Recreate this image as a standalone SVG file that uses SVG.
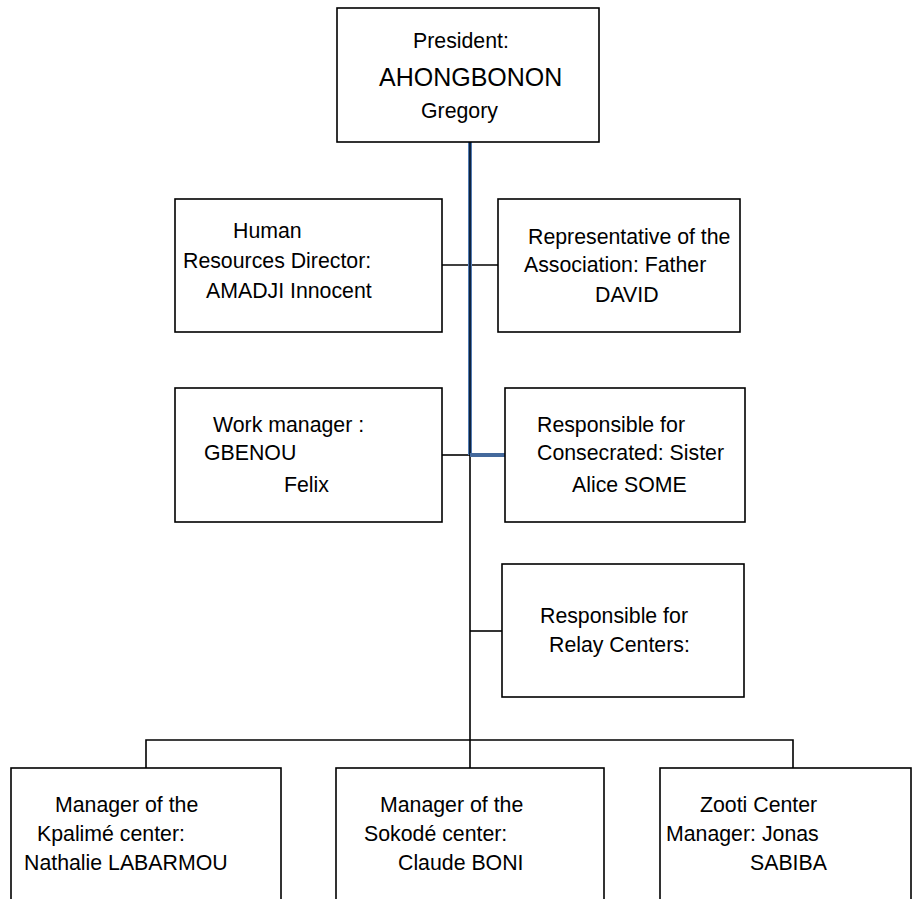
<svg xmlns="http://www.w3.org/2000/svg" width="913" height="899" viewBox="0 0 913 899">
<style>
.box{fill:#fff;stroke:#000;stroke-width:1.6}
.t{font-family:"Liberation Sans",Arial,sans-serif;font-size:21.3px;fill:#000}
.big{font-size:25px}
.ln{stroke:#000;stroke-width:1.6;fill:none}
</style>
<rect width="913" height="899" fill="#fff"/>
<g id="connectors">
<line class="ln" x1="442" y1="265" x2="498" y2="265"/>
<line class="ln" x1="442" y1="455" x2="470" y2="455"/>
<line class="ln" x1="470" y1="455" x2="470" y2="768"/>
<line class="ln" x1="470" y1="631" x2="502" y2="631"/>
<polyline class="ln" points="146,768 146,740 793,740 793,768"/>
<line x1="470" y1="142" x2="470" y2="455" stroke="#5b86c0" stroke-width="4"/>
<line x1="470" y1="142" x2="470" y2="455" stroke="#0f2440" stroke-width="2.2"/>
<line x1="470" y1="455" x2="505" y2="455" stroke="#44699c" stroke-width="4"/>
</g>
<g id="president">
<rect class="box" x="337" y="8" width="262" height="134"/>
<text class="t" x="413" y="48">President:</text>
<text class="t big" x="379" y="86">AHONGBONON</text>
<text class="t" x="421" y="118">Gregory</text>
</g>
<g id="hr">
<rect class="box" x="175" y="199" width="267" height="133"/>
<text class="t" x="233" y="238">Human</text>
<text class="t" x="183" y="268">Resources Director:</text>
<text class="t" x="206" y="298">AMADJI Innocent</text>
</g>
<g id="representative">
<rect class="box" x="498" y="199" width="242" height="133"/>
<text class="t" x="528" y="244">Representative of the</text>
<text class="t" x="524" y="272">Association: Father</text>
<text class="t" x="595" y="302">DAVID</text>
</g>
<g id="work">
<rect class="box" x="175" y="388" width="267" height="134"/>
<text class="t" x="213" y="432">Work manager :</text>
<text class="t" x="204" y="460">GBENOU</text>
<text class="t" x="284" y="492">Felix</text>
</g>
<g id="consecrated">
<rect class="box" x="505" y="388" width="240" height="134"/>
<text class="t" x="537" y="432">Responsible for</text>
<text class="t" x="537" y="460">Consecrated: Sister</text>
<text class="t" x="572" y="492">Alice SOME</text>
</g>
<g id="relay">
<rect class="box" x="502" y="564" width="242" height="133"/>
<text class="t" x="540" y="623">Responsible for</text>
<text class="t" x="549" y="652">Relay Centers:</text>
</g>
<g id="kpalime">
<rect class="box" x="11" y="768" width="270" height="150"/>
<text class="t" x="55" y="812">Manager of the</text>
<text class="t" x="37" y="841">Kpalimé center:</text>
<text class="t" x="24" y="870">Nathalie LABARMOU</text>
</g>
<g id="sokode">
<rect class="box" x="336" y="768" width="268" height="150"/>
<text class="t" x="380" y="812">Manager of the</text>
<text class="t" x="364" y="841">Sokodé center:</text>
<text class="t" x="398" y="870">Claude BONI</text>
</g>
<g id="zooti">
<rect class="box" x="660" y="768" width="251" height="150"/>
<text class="t" x="700" y="812">Zooti Center</text>
<text class="t" x="666" y="841">Manager: Jonas</text>
<text class="t" x="750" y="870">SABIBA</text>
</g>
</svg>
